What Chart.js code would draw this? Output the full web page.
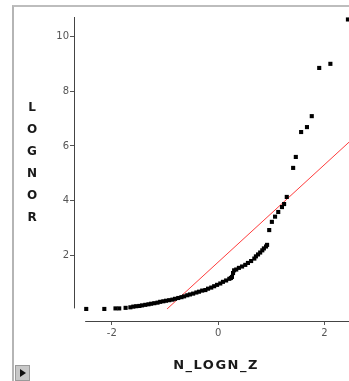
<!DOCTYPE html>
<html>
<head>
<meta charset="utf-8">
<script src="https://cdn.jsdelivr.net/npm/chart.js@4.4.1/dist/chart.umd.min.js"></script>
<style>
    html, body { margin: 0; padding: 0; background: #fff; }
    #wrap { position: relative; width: 349px; height: 381px; overflow: hidden; }
    #frame {
        position: absolute; left: 12px; top: 5px; right: 0; bottom: 0;
        border-top: 2px solid #bdbdbd; border-left: 2px solid #b5b5b5;
        pointer-events: none;
    }
    #play {
        position: absolute; left: 15px; top: 365px; width: 15px; height: 16px;
        background: #c8c8c8; border: 1px solid #9a9a9a; box-sizing: border-box;
    }
    #play::after {
        content: ""; position: absolute; left: 4px; top: 3px;
        border-top: 4px solid transparent; border-bottom: 4px solid transparent;
        border-left: 6px solid #111;
    }
</style>
</head>
<body>
<div id="wrap">
    <canvas id="qq" width="349" height="381"></canvas>
    <div id="frame"></div>
    <div id="play"></div>
</div>
<script>
/* =======================
   DATI
======================= */

const X_TITLE = "N_LOGN_Z";
const Y_TITLE = "LOGNOR";

const X_TICKS = [-2, 0, 2];
const Y_TICKS = [2, 4, 6, 8, 10];

// quantili normali (asse x) e valori osservati (asse y)
const Z_VALUES = [
    -2.48, -2.14, -1.93, -1.86, -1.74, -1.65,
    -1.595, -1.54, -1.48, -1.43, -1.37, -1.31, -1.26, -1.20, -1.14, -1.09,
    -1.03, -0.98, -0.92, -0.86, -0.81, -0.75, -0.69, -0.64, -0.58, -0.53,
    -0.47, -0.41, -0.36, -0.30, -0.24, -0.19, -0.13, -0.075, -0.02, 0.04,
    0.09, 0.15, 0.21, 0.24, 0.26, 0.28, 0.30, 0.34, 0.39, 0.45,
    0.51, 0.56, 0.62, 0.68, 0.71, 0.75, 0.79, 0.83, 0.86, 0.90, 0.92,
    0.96, 1.01, 1.07, 1.13, 1.20, 1.24, 1.29, 1.41, 1.46,
    1.56, 1.67, 1.76, 1.90, 2.11, 2.44
];
const LOGNOR = [
    0.05, 0.05, 0.07, 0.07, 0.09, 0.11,
    0.135, 0.15, 0.16, 0.18, 0.20, 0.22, 0.24, 0.26, 0.28, 0.31,
    0.33, 0.35, 0.37, 0.39, 0.42, 0.45, 0.48, 0.51, 0.55, 0.58,
    0.61, 0.65, 0.68, 0.72, 0.74, 0.79, 0.83, 0.88, 0.93, 0.98,
    1.04, 1.09, 1.15, 1.18, 1.22, 1.36, 1.46, 1.49, 1.55, 1.60,
    1.66, 1.73, 1.80, 1.89, 1.97, 2.04, 2.11, 2.19, 2.26, 2.33, 2.39,
    2.93, 3.23, 3.42, 3.59, 3.77, 3.88, 4.14, 5.20, 5.60,
    6.51, 6.69, 7.09, 8.85, 9.00, 10.62
];

// retta di riferimento (estremi)
const REF_Z = [-0.96, 2.46];
const REF_Y = [0.05, 6.14];

/* =======================
   PLUGIN
======================= */

const assiEtitoli = {
    id: "assiEtitoli",
    afterDraw(chart) {
        const ctx = chart.ctx;
        const xs = chart.scales.x;
        const ys = chart.scales.y;
        const area = chart.chartArea;

        ctx.save();
        ctx.strokeStyle = "#444";
        ctx.lineWidth = 1;

        // asse y
        const xl = Math.round(area.left) + 0.5;
        ctx.beginPath();
        ctx.moveTo(xl, area.top);
        ctx.lineTo(xl, ys.getPixelForValue(0.07));
        ctx.stroke();

        // asse x
        const yb = Math.round(area.bottom) + 0.5;
        ctx.beginPath();
        ctx.moveTo(xs.getPixelForValue(-2.5), yb);
        ctx.lineTo(area.right, yb);
        ctx.stroke();

        // titolo y, lettere in colonna
        ctx.fillStyle = "#1a1a1a";
        ctx.font = "bold 12px 'DejaVu Sans'";
        ctx.textAlign = "center";
        ctx.textBaseline = "middle";
        Y_TITLE.split("").forEach((ch, i) => {
            ctx.fillText(ch, 32, 108 + i * 22);
        });

        // titolo x
        ctx.font = "bold 13px 'DejaVu Sans'";
        ctx.letterSpacing = "1.5px";
        ctx.fillText(X_TITLE, 216, 366);
        ctx.restore();
    }
};

/* =======================
   GRAFICO
======================= */

const punti = Z_VALUES.map((z, i) => ({ x: z, y: LOGNOR[i] }));
const retta = REF_Z.map((z, i) => ({ x: z, y: REF_Y[i] }));

new Chart(document.getElementById("qq"), {
    type: "scatter",
    data: {
        datasets: [
            {
                type: "line",
                data: retta,
                borderColor: "rgb(255, 60, 60)",
                borderWidth: 1,
                pointRadius: 0,
                fill: false,
                order: 2
            },
            {
                data: punti,
                pointStyle: "rect",
                pointRadius: 2.9,
                backgroundColor: "#000",
                borderWidth: 0,
                order: 1
            }
        ]
    },
    plugins: [assiEtitoli],
    options: {
        responsive: false,
        animation: false,
        layout: {
            autoPadding: false,
            padding: { left: 0, top: 17, right: 0, bottom: 0 }
        },
        plugins: {
            legend: { display: false },
            tooltip: { enabled: false }
        },
        scales: {
            x: {
                type: "linear",
                min: -2.71,
                max: 2.46,
                afterBuildTicks: s => { s.ticks = X_TICKS.map(v => ({ value: v })); },
                afterFit: s => {
                    s.height = 60;
                    s.paddingLeft = 0;
                    s.paddingRight = 0;
                },
                border: { display: false },
                grid: {
                    drawOnChartArea: false,
                    drawTicks: true,
                    tickLength: 4,
                    color: "#555"
                },
                ticks: {
                    padding: 2,
                    color: "#555",
                    font: { family: "DejaVu Sans", size: 10 },
                    maxRotation: 0
                }
            },
            y: {
                type: "linear",
                min: -0.39,
                max: 10.71,
                afterBuildTicks: s => { s.ticks = Y_TICKS.map(v => ({ value: v })); },
                afterFit: s => {
                    s.width = 74;
                    s.paddingTop = 0;
                    s.paddingBottom = 0;
                },
                border: { display: false },
                grid: {
                    drawOnChartArea: false,
                    drawTicks: true,
                    tickLength: 4,
                    color: "#555"
                },
                ticks: {
                    padding: 1,
                    color: "#555",
                    font: { family: "DejaVu Sans", size: 10 }
                }
            }
        }
    }
});
</script>
</body>
</html>
